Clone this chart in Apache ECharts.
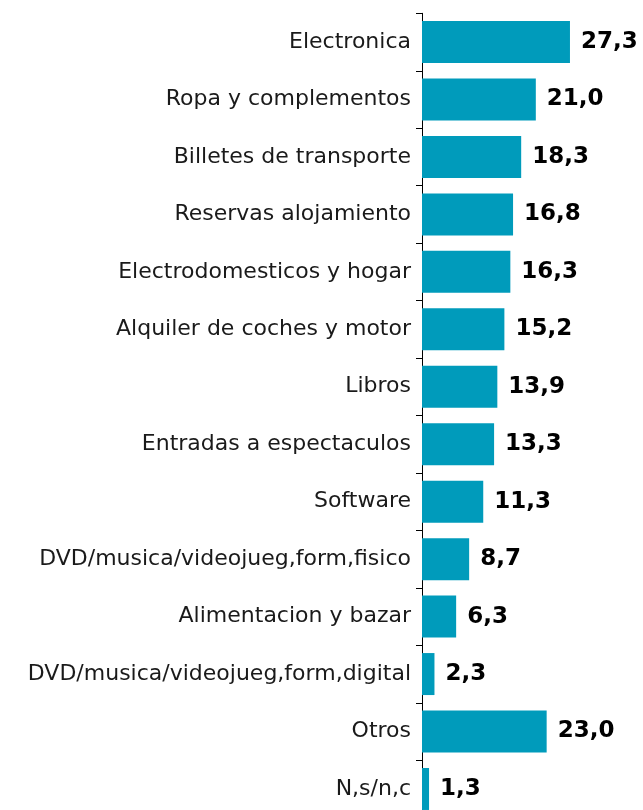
<!DOCTYPE html>
<html>
<head>
<meta charset="utf-8">
<script src="https://cdn.jsdelivr.net/npm/echarts@6/dist/echarts.min.js"></script>
<style>
	html, body { margin: 0; padding: 0; background: #fff; }
	#main { width: 643px; height: 810px; }
</style>
</head>
<body>
<div id="main"></div>
<script>
	// categorias, de arriba a abajo
	var categorias = [
		'Electronica',
		'Ropa y complementos',
		'Billetes de transporte',
		'Reservas alojamiento',
		'Electrodomesticos y hogar',
		'Alquiler de coches y motor',
		'Libros',
		'Entradas a espectaculos',
		'Software',
		'DVD/musica/videojueg,form,fisico',
		'Alimentacion y bazar',
		'DVD/musica/videojueg,form,digital',
		'Otros',
		'N,s/n,c'
	];

	var valores = [27.3, 21.0, 18.3, 16.8, 16.3, 15.2, 13.9, 13.3, 11.3, 8.7, 6.3, 2.3, 23.0, 1.3];

	var myChart = echarts.init(document.getElementById('main'));

	var option = {
		animation: false,
		textStyle: { fontFamily: 'DejaVu Sans' },
		grid: {
			left: 422,
			top: 13.3,
			width: 216.8,
			height: 804.4,
			containLabel: false,
			outerBoundsMode: 'none'
		},
		xAxis: {
			type: 'value',
			min: 0,
			max: 40,
			show: false
		},
		yAxis: {
			type: 'category',
			data: categorias,
			inverse: true,
			axisLine: { show: true, lineStyle: { color: '#000', width: 1 } },
			axisTick: { show: true, length: 6, lineStyle: { color: '#000', width: 1 } },
			axisLabel: {
				color: '#1a1a1a',
				fontSize: 22,
				margin: 11
			}
		},
		series: [{
			type: 'bar',
			data: valores,
			barWidth: 42,
			itemStyle: { color: '#009bbb' },
			label: {
				show: true,
				position: 'right',
				distance: 11,
				color: '#000',
				fontSize: 23,
				fontWeight: 'bold',
				formatter: function(p) {
					// coma decimal
					return p.value.toFixed(1).replace('.', ',');
				}
			}
		}]
	};

	myChart.setOption(option);
</script>
</body>
</html>
